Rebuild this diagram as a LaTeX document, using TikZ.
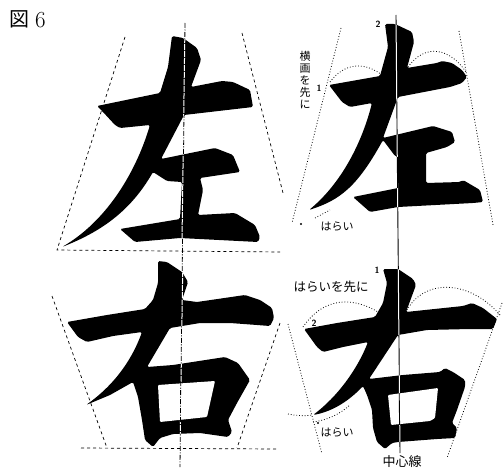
\documentclass[tikz,border=0pt]{standalone}
\usepackage{fontspec}
\usepackage{xcolor}
\newfontfamily\cjk{Noto Sans CJK JP}
\newcommand{\bigzuo}{(172,36)--(183,38)--(197,48)--(201,60)--(191,87)--(222,81)--(233,82)--(250,90)--(253,107)--(184,115)--(161,159)--(215,148)--(233,155)--(240,172)--(200,178)--(203,190)--(198,215)--(235,213)--(255,225)--(260,237)--(258,242)--(180,238)--(135,242)--(120,229)--(180,219)--(182,182)--(167,181)--(153,172) .. controls (130,212) and (100,232) .. (62,247) .. controls (105,222) and (135,175) .. (150,125)--(120,128)--(115,125)--(103,112)--(97,106)--(160,93)--(168,67)--cycle}
\newcommand{\bigyou}{(158,261)--(167,262)--(182,272)--(188,282)--(182,300)--(197,302)--(245,295)--(260,300)--(272,308)--(274,318)--(270,326)--(257,325)--(230,323)--(200,323)--(170,328)--(147,367)--(173,365)--(225,357)--(238,363)--(250,380)--(237,403)--(228,420)--(232,432)--(228,437)--(200,433)--(173,434)--(160,438)--(153,447)--(145,440)--(142,420)--(138,397)--(133,382)--(110,395)--(86,405) .. controls (110,388) and (130,365) .. (142,332)--(113,336)--(87,342)--(78,337)--(67,322)--(107,315)--(145,309)--(153,300)--(158,283)--cycle}
\newcommand{\bigyouhole}{(158,385)--(215,381)--(207,417)--(160,422)--cycle}
\newcommand{\smallzuo}{(385,24)--(395,24)--(412,32)--(414,42)--(407,68)--(437,63)--(442,61)--(452,63)--(462,70)--(467,77)--(462,83)--(450,87)--(398,97)--(383,138)--(433,126)--(452,132)--(455,142)--(447,147)--(426,153)--(426,183)--(460,182)--(463,180)--(480,190)--(483,202)--(473,203)--(398,207)--(370,212)--(353,197)--(398,188)--(398,157)--(395,156)--(383,140) .. controls (357,187) and (340,200) .. (309,210) .. controls (337,187) and (360,150) .. (372,103)--(350,107)--(342,102)--(329,85)--(380,76)--(388,47)--cycle}
\newcommand{\smallyou}{(383,269)--(398,269)--(413,279)--(416,285)--(406,312)--(463,306)--(472,303)--(483,308)--(497,319)--(493,329)--(470,329)--(427,330)--(398,335)--(369,379)--(403,375)--(440,372)--(445,368)--(453,372)--(465,380)--(465,387)--(457,410)--(452,423)--(457,428)--(455,438)--(437,439)--(398,442)--(392,443)--(385,449)--(377,442)--(373,428)--(372,410)--(367,395)--(363,386) .. controls (347,403) and (330,412) .. (313,415) .. controls (337,397) and (357,370) .. (368,342)--(343,347)--(323,352)--(317,347)--(304,329)--(337,323)--(375,317)--(383,303)--(387,283)--cycle}
\newcommand{\smallyouhole}{(388,395)--(438,388)--(435,418)--(430,421)--(391,425)--cycle}
\begin{document}
\begin{tikzpicture}[x=1pt,y=-1pt,
    inkshape/.style={fill=black,rounded corners=1.5pt},
    holeshape/.style={fill=white,rounded corners=1pt},
    dashguide/.style={draw=black,line width=.7pt,dash pattern=on 3pt off 3pt},
    dotguide/.style={draw=black,line width=.8pt,dash pattern=on .8pt off 2pt},
    centerline/.style={draw=black,line width=.8pt,dash pattern=on 5pt off 1.5pt on 1pt off 1.5pt},
    whitebig/.style={draw=white,line width=1pt,dash pattern=on 6pt off 1pt},
    solidline/.style={draw=black,line width=.9pt},
    note/.style={inner sep=0pt,font=\cjk\fontsize{11}{12}\selectfont},
    digit/.style={inner sep=0pt,font=\sffamily\bfseries\fontsize{9}{9}\selectfont}]
    \useasboundingbox (0,0) rectangle (503,468);

    \node[inner sep=0pt,anchor=west,font=\cjk\fontsize{20}{20}\selectfont] (title) at (9,19) {図};
    \node[inner sep=0pt,anchor=west,font=\fontsize{23}{23}\selectfont] (titlenum) at (35,20) {6};

    % large pair
    \draw[dashguide] (125,37) -- (57,250) -- (280,252);
    \draw[dashguide] (242,33) -- (283,193);
    \draw[dashguide] (52,296) -- (107,448);
    \draw[dashguide] (280,323) -- (237,448);
    \draw[dashguide] (81,448) -- (278,449);
    \draw[centerline] (185,23) -- (180,467);
    \fill[inkshape] \bigzuo;
    \fill[inkshape] \bigyou;
    \begin{scope}
        \clip \bigzuo;
        \draw[whitebig] (185,23) -- (182,240);
    \end{scope}
    \begin{scope}
        \clip \bigyou;
        \draw[whitebig] (183,250) -- (180,450);
    \end{scope}
    \fill[holeshape] \bigyouhole;
    \draw[centerline] (180.7,381) -- (180.4,422);

    % small pair
    \draw[dotguide] (341,28) -- (292,223);
    \draw[dotguide] (459,31) -- (493,225);
    \draw[dotguide] (330,82) .. controls (345,62) and (365,62) .. (382,75);
    \draw[dotguide] (408,67) .. controls (425,43) and (450,48) .. (466,72);
    \draw[dotguide] (315,218) -- (330,210);
    \draw[dotguide] (288,324) -- (322,454);
    \draw[dotguide] (502,303) -- (447,458);
    \draw[dotguide] (303,327) .. controls (325,295) and (355,298) .. (378,312);
    \draw[dotguide] (407,310) .. controls (425,278) and (470,280) .. (500,315);
    \draw[dotguide] (288,414) .. controls (298,416) and (306,416) .. (313,415);
    \draw[dotguide] (313,422) .. controls (328,420) and (340,414) .. (350,405);
    \draw[solidline] (396,15) -- (400,453);
    \fill[inkshape] \smallzuo;
    \fill[inkshape] \smallyou;
    \begin{scope}
        \clip \smallzuo;
        \draw[white,line width=1pt] (396,15) -- (398,240);
    \end{scope}
    \begin{scope}
        \clip \smallyou;
        \draw[white,line width=1pt] (398,240) -- (400,453);
    \end{scope}
    \fill[holeshape] \smallyouhole;
    \draw[solidline] (399.2,393) -- (399.6,425);
    \fill (301,224) circle (1.2pt);
    \fill (318,423) circle (1.2pt);

    \node[digit] (numtwoa) at (378,24) {2};
    \node[digit] (numonea) at (319,88) {1};
    \node[digit] (numoneb) at (377,270) {1};
    \node[digit] (numtwob) at (314,323) {2};
    \node[note,align=center] (yokonote) at (305,80) {横\\画\\を\\先\\に};
    \node[note] (haraia) at (337,227) {はらい};
    \node[note,font=\cjk\fontsize{12.5}{12.5}\selectfont] (haraifirst) at (331,287) {はらいを先に};
    \node[note] (haraib) at (337,433) {はらい};
    \node[note,font=\cjk\fontsize{13}{13}\selectfont] (centerlabel) at (402,462) {中心線};
\end{tikzpicture}
\end{document}
